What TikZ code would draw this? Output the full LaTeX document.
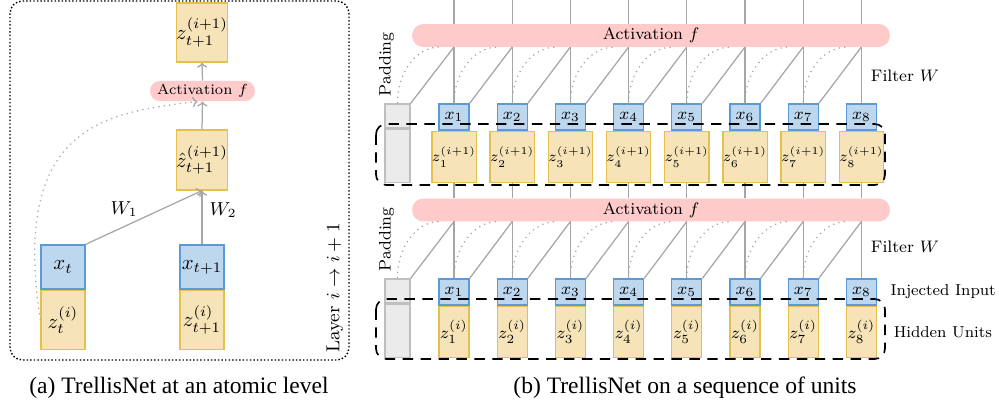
\documentclass[tikz,border=0pt]{standalone}
\usepackage{fontspec}
\newfontfamily\capfont{Liberation Serif}
\usetikzlibrary{arrows.meta,positioning}
\definecolor{xfill}{HTML}{BDD7EE}
\definecolor{xline}{HTML}{5B9BD5}
\definecolor{zfill}{HTML}{F6E4B8}
\definecolor{zline}{HTML}{E6C04E}
\definecolor{actfill}{HTML}{FFCACA}
\definecolor{padfill}{HTML}{EBEBEB}
\definecolor{padline}{HTML}{BFBFBF}
\definecolor{wirecol}{HTML}{A6A6A6}

\begin{document}
\begin{tikzpicture}[x=0.48pt, y=-0.48pt, >={To[length=2.4pt]},
    wire/.style={draw=wirecol, line width=0.6pt},
    skipwire/.style={draw=wirecol, dotted, line width=0.6pt},
    xbox/.style={draw=xline, fill=xfill, line width=0.6pt, inner sep=0pt,
      minimum width=14.4pt, minimum height=12.5pt, font=\footnotesize},
    zbox/.style={draw=zline, fill=zfill, line width=0.6pt, inner sep=0pt,
      minimum width=14.4pt, minimum height=24.5pt, font=\scriptsize},
    bigcell/.style={minimum width=21.1pt, font=\normalsize},
    padbox/.style={draw=padline, fill=padfill, line width=0.6pt, inner sep=0pt,
      minimum width=12pt},
    act/.style={fill=actfill, rounded corners=5.4pt, inner sep=0pt,
      minimum height=11pt, font=\footnotesize},
    sidelabel/.style={font=\fontsize{7.6}{9}\selectfont},
    unitframe/.style={draw=black, dash pattern=on 5pt off 3.6pt,
      line width=0.8pt, rounded corners=5pt},
    atomframe/.style={draw=black, densely dotted, line width=0.7pt,
      rounded corners=6pt},
    caption/.style={font=\capfont\fontsize{11.3}{13}\selectfont}]
  \useasboundingbox (0,0) rectangle (999,409);

  % (a) one unit
  \draw[atomframe] (10,1) rectangle (349,360);
  \node[zbox, bigcell, minimum height=28.3pt] (ztop) at (202,32.5) {$z_{t+1}^{(i+1)}$};
  \node[zbox, bigcell, minimum height=28.8pt] (zhat) at (202,160) {$\hat{z}_{t+1}^{(i+1)}$};
  \node[xbox, bigcell, minimum height=21.1pt] (xt) at (63,267) {$x_t$};
  \node[zbox, bigcell, minimum height=28.3pt, below=0pt of xt] (zt) {$z_t^{(i)}$};
  \node[xbox, bigcell, minimum height=21.1pt] (xtt) at (202,267) {$x_{t+1}$};
  \node[zbox, bigcell, minimum height=28.3pt, below=0pt of xtt] (ztt) {$z_{t+1}^{(i)}$};
  \node[act, minimum width=50.4pt, minimum height=9.6pt, rounded corners=4.7pt,
    font=\scriptsize] (act0) at (202.5,91) {Activation $f$};
  \draw[wire, ->] (xt.north east) -- node[pos=0.47, above left, inner sep=1pt,
    font=\small] {$W_1$} (zhat.south);
  \draw[wire, ->] (xtt.north) -- node[pos=0.64, right, font=\small] {$W_2$} (zhat.south);
  \draw[wire, ->] (zhat.north) -- (act0.south);
  \draw[wire, ->] (act0.north) -- (ztop.south);
  \draw[skipwire, ->] (zt.west) .. controls +(-31,-198) and +(-87,11)
    .. ([xshift=-2.4pt]act0.south);
  \node[rotate=90, font=\small] (layer) at (335,288) {Layer $i \rightarrow i+1$};

  % (b) sequence of units
  \node[padbox, minimum height=11.5pt] (ux0) at (397.5,116) {};
  \node[padbox, minimum height=25.4pt, below=0pt of ux0] (uz0) {};
  \node[padbox, minimum height=11.5pt] (lx0) at (397.5,291) {};
  \node[padbox, minimum height=25.4pt, below=0pt of lx0] (lz0) {};
  \node[act, minimum width=229.4pt] (actu) at (651,35.5) {Activation $f$};
  \node[act, minimum width=229.4pt] (actl) at (651,210) {Activation $f$};

  \foreach \k [remember=\k as \j (initially 0)] in {1,...,8} {
    \pgfmathsetmacro\cx{454+58.2*(\k-1)}
    \node[xbox] (ux\k) at (\cx,117) {$x_{\k}$};
    \node[zbox, below=0pt of ux\k] (uz\k) {$z_{\k}^{(i+1)}$};
    \node[xbox] (lx\k) at (\cx,292) {$x_{\k}$};
    \node[zbox, below=0pt of lx\k, font=\footnotesize] (lz\k) {$z_{\k}^{(i)}$};
    \coordinate (tu\k) at (\cx,0);
    \coordinate (fu\k) at (\cx,47);
    \coordinate (su\k) at (\cx-14,47);
    \coordinate (fl\k) at (\cx,221.5);
    \coordinate (sl\k) at (\cx-14,221.5);
    \draw[wire] (tu\k) -- (tu\k |- actu.north);
    \draw[wire] (ux\k.north) -- (fu\k);
    \draw[wire] (ux\j.north east) -- (fu\k);
    \draw[skipwire] (ux\j.north) .. controls +(0,-30) and +(-25,0) .. (su\k);
    \draw[wire] (uz\k.south) -- (uz\k.south |- actl.north);
    \draw[wire] (lx\k.north) -- (fl\k);
    \draw[wire] (lx\j.north east) -- (fl\k);
    \draw[skipwire] (lx\j.north) .. controls +(0,-30) and +(-25,0) .. (sl\k);
  }

  \draw[unitframe] (376,124) rectangle (885,185);
  \draw[unitframe] (376,299) rectangle (885,359);

  \node[font=\footnotesize, rotate=90, anchor=west] (padu)
    at ([xshift=-5.3pt]ux0.north) {Padding};
  \node[font=\footnotesize, rotate=90, anchor=west] (padl)
    at ([xshift=-5.3pt]lx0.north) {Padding};
  \node[font=\footnotesize] (filtu) at (905,76) {Filter $W$};
  \node[font=\footnotesize] (filtl) at (905,247) {Filter $W$};
  \node[sidelabel, right=3pt of lx8] (inj) {Injected Input};
  \node[sidelabel, right=4.5pt of lz8] (hid) {Hidden Units};

  \node[caption] (capa) at (179,388) {(a) TrellisNet at an atomic level};
  \node[caption] (capb) at (685,388) {(b) TrellisNet on a sequence of units};
\end{tikzpicture}
\end{document}
